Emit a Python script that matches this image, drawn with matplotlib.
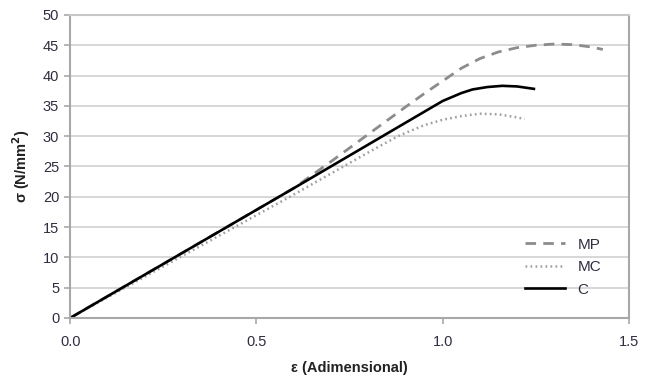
import matplotlib
matplotlib.use("Agg")
import matplotlib.pyplot as plt

plt.rcParams['font.family'] = ['Liberation Sans', 'DejaVu Sans']

# Data
mp_x = [0.0, 0.30, 0.60, 0.65, 0.70, 0.80, 0.90, 0.95, 1.00, 1.05, 1.10, 1.15, 1.20, 1.25, 1.30, 1.35, 1.40, 1.43]
mp_y = [0.0, 10.7, 21.4, 23.6, 25.8, 30.3, 34.8, 37.0, 39.1, 41.2, 42.8, 43.9, 44.6, 45.0, 45.2, 45.1, 44.7, 44.3]

mc_x = [0.0, 0.30, 0.59, 0.80, 0.88, 0.95, 1.00, 1.05, 1.10, 1.15, 1.20, 1.22]
mc_y = [0.0, 10.2, 20.0, 27.3, 30.0, 31.8, 32.7, 33.3, 33.7, 33.6, 33.1, 32.8]

c_x = [0.0, 0.30, 0.60, 0.90, 1.00, 1.05, 1.08, 1.12, 1.16, 1.20, 1.245]
c_y = [0.0, 10.7, 21.4, 32.2, 35.8, 37.1, 37.7, 38.1, 38.3, 38.2, 37.8]

labels = ['MP', 'MC', 'C']
x_ticks = [0.0, 0.5, 1.0, 1.5]
x_ticklabels = ['0.0', '0.5', '1.0', '1.5']
y_ticks = list(range(0, 51, 5))

fig = plt.figure(figsize=(6.51, 3.83), dpi=100)
ax = fig.add_axes([0.108, 0.170, 0.858, 0.791])

text_col = '#2e2e40'
ax.plot(mp_x, mp_y, color='#8c8c8c', lw=2.0, ls=(0, (3.8, 2.6)), label=labels[0])
ax.plot(mc_x, mc_y, color='#a0a0a0', lw=1.8, ls=(0, (0.7, 1.3)), label=labels[1])
ax.plot(c_x, c_y, color='#000000', lw=1.9, label=labels[2])

ax.set_xlim(0, 1.5)
ax.set_ylim(0, 50)
ax.set_xticks(x_ticks)
ax.set_xticklabels(x_ticklabels)
ax.set_yticks(y_ticks)

ax.yaxis.grid(True, color='#d4d4d4', lw=1.3)
ax.set_axisbelow(True)
for s in ax.spines.values():
    s.set_color('#a8a8a8')
    s.set_linewidth(1.5)
ax.spines['top'].set_color('#c8c8c8')

ax.tick_params(axis='both', colors='#a8a8a8', labelcolor=text_col, labelsize=10.5,
               length=4, width=1.2)
ax.tick_params(axis='x', pad=8)
ax.tick_params(axis='y', pad=4)

ax.set_xlabel('ε (Adimensional)', fontsize=10.5, fontweight='bold', color='#222222', labelpad=9)
ax.set_ylabel('σ (N/mm$^\\mathbf{2}$)', fontsize=10.5, fontweight='bold', color='#222222', labelpad=8)

leg = ax.legend(loc='lower right', bbox_to_anchor=(0.975, 0.025), frameon=False,
                fontsize=11, handlelength=2.6, labelspacing=0.55, handletextpad=0.8,
                labelcolor=text_col)

fig.savefig('out.png', dpi=100)
